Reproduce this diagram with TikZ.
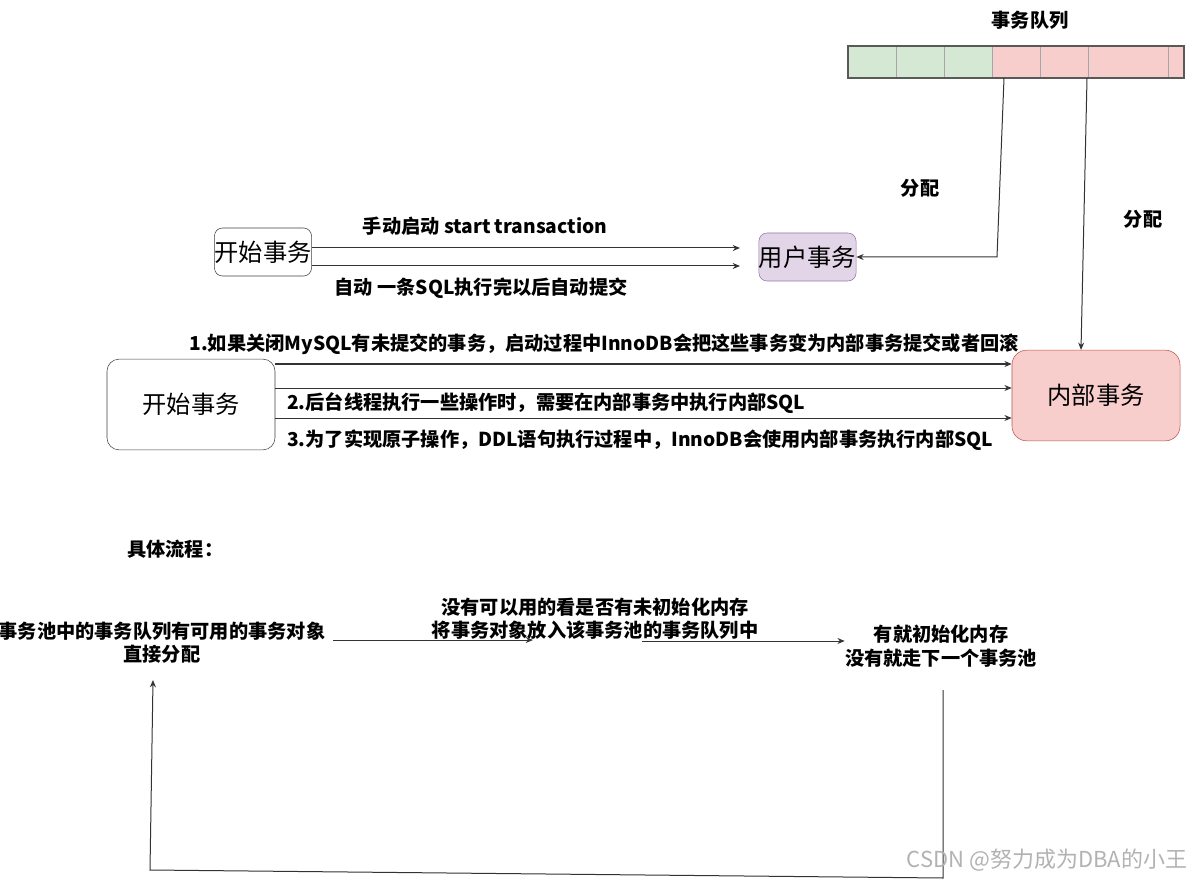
\documentclass[tikz,border=0pt]{standalone}
\usepackage{fontspec}
\setmainfont{Noto Sans CJK SC}
\usetikzlibrary{arrows.meta}
\definecolor{QueueGreen}{HTML}{D5E8D4}
\definecolor{QueueRed}{HTML}{F8CECC}
\definecolor{UserFill}{HTML}{E1D5E7}
\definecolor{UserDraw}{HTML}{9673A6}
\definecolor{InnerDraw}{HTML}{B85450}

\begin{document}
\begin{tikzpicture}[
  x=0.75pt, y=-0.75pt,
  font=\fontsize{14.4}{17.5}\selectfont\bfseries,
  box/.style={rectangle, rounded corners=6pt, draw=black!75, fill=white,
              font=\fontsize{18.2}{20}\selectfont, inner sep=0pt},
  userbox/.style={box, fill=UserFill, draw=UserDraw},
  innerbox/.style={box, fill=QueueRed, draw=InnerDraw, rounded corners=11pt},
  lbl/.style={inner sep=0pt, align=center},
  cell/.style={draw=gray!70, line width=0.6pt},
  arrow/.style={-{Stealth[length=5.5pt,width=4.5pt]}, black!80, line width=0.75pt},
]
\useasboundingbox (0,0) rectangle (1195,880);

% queue
\foreach \a/\b in {848/896, 896/944, 944/992}
  \filldraw[cell, fill=QueueGreen] (\a,46) rectangle (\b,78);
\foreach \a/\b in {992/1040, 1040/1088, 1088/1168, 1168/1184}
  \filldraw[cell, fill=QueueRed] (\a,46) rectangle (\b,78);
\draw[black!65, line width=0.8pt] (848,46) rectangle (1184,78);
\node[lbl] (qtitle) at (1030,20) {事务队列};
\coordinate (q1) at (1004,78);
\coordinate (q2) at (1087,78);

% user transaction
\node[box, minimum width=72pt, minimum height=36pt] (start1) at (263,252) {开始事务};
\node[userbox, minimum width=72pt, minimum height=36pt] (user) at (807.5,257) {用户事务};
\coordinate (u1) at (740,248);
\coordinate (u2) at (740,266);
\draw[arrow] (start1.east |- u1) -- (u1);
\draw[arrow] (start1.east |- u2) -- (u2);
\node[lbl] (manual) at (485,226) {手动启动 start transaction};
\node[lbl] (auto) at (481,288) {自动 一条SQL执行完以后自动提交};

% internal transaction
\node[box, rounded corners=9pt, minimum width=126pt, minimum height=68pt] (start2) at (191,404.5) {开始事务};
\node[innerbox, minimum width=126pt, minimum height=68pt] (inner) at (1096,395.5) {内部事务};
\draw[arrow] (start2.east |- 0,364) -- (inner.west |- 0,364);
\draw[arrow] (start2.east |- 0,388) -- (inner.west |- 0,388);
\draw[arrow] (start2.east |- 0,418) -- (inner.west |- 0,418);
\node[lbl] (case1) at (604,344) {1.如果关闭MySQL有未提交的事务，启动过程中InnoDB会把这些事务变为内部事务提交或者回滚};
\node[lbl, anchor=west] (case2) at (287,403) {2.后台线程执行一些操作时，需要在内部事务中执行内部SQL};
\node[lbl, anchor=west] (case3) at (287,440) {3.为了实现原子操作，DDL语句执行过程中，InnoDB会使用内部事务执行内部SQL};

% allocation
\draw[arrow] (q1) -- (997,257) -- (user.east);
\draw[arrow] (q2) -- (inner.north -| 1081,0);
\node[lbl] (alloc1) at (920,188) {分配};
\node[lbl] (alloc2) at (1143,219) {分配};

% flow
\node[lbl, anchor=west] (flow) at (127,549) {具体流程：};
\node[lbl] (pool) at (162,642.5) {事务池中的事务队列有可用的事务对象\\直接分配};
\node[lbl] (check) at (595,618.5) {没有可以用的看是否有未初始化内存\\将事务对象放入该事务池的事务队列中};
\node[lbl] (next) at (941,646) {有就初始化内存\\没有就走下一个事务池};
\coordinate (p0) at (333,640);
\coordinate (m1) at (533,640);
\coordinate (m2) at (642,641);
\draw[arrow] (p0) -- (m1);
\draw[arrow] (m2) -- (next.west |- m2);
\coordinate (fb1) at (943,690);
\coordinate (fb2) at (153,680);
\draw[arrow] (fb1) -- (943,878) -- (150,870) -- (fb2);

\node[font=\fontsize{16.5}{18}\selectfont, text=black!30, inner sep=0pt] (mark) at (1047,860) {CSDN @努力成为DBA的小王};
\end{tikzpicture}
\end{document}
